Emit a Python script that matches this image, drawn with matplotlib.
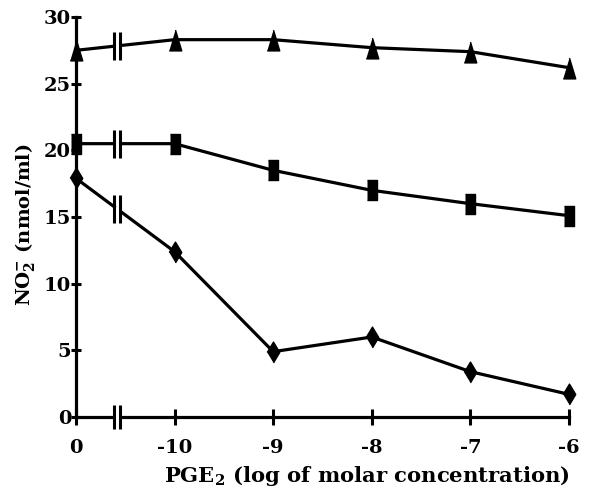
import numpy as np
import matplotlib
matplotlib.use("Agg")
import matplotlib.pyplot as plt
import matplotlib.transforms as mtransforms

# ---- data ----
x_labels = ["0", "-10", "-9", "-8", "-7", "-6"]
triangle_vals = [27.5, 28.3, 28.3, 27.7, 27.4, 26.2]
square_vals = [20.5, 20.5, 18.5, 17.0, 16.0, 15.1]
diamond_vals = [17.9, 12.4, 4.9, 6.0, 3.4, 1.7]
y_ticks = [0, 5, 10, 15, 20, 25, 30]
break_pos = 0.42

plt.rcParams['font.family'] = ['DejaVu Serif']
plt.rcParams['font.weight'] = 'bold'
plt.rcParams['mathtext.fontset'] = 'dejavuserif'

fig = plt.figure(figsize=(5.98, 4.9), dpi=100)
ax = fig.add_axes([76/598, 73/490, (569-76)/598, 400/490])

xpos = np.arange(len(x_labels))
lw = 2.3

tri = [(-0.3, -0.5), (0.3, -0.5), (0.0, 0.5)]
rect = [(-0.28, -0.5), (0.28, -0.5), (0.28, 0.5), (-0.28, 0.5)]
dia = [(0.0, -0.5), (0.3, 0.0), (0.0, 0.5), (-0.3, 0.0)]

ax.plot(xpos, triangle_vals, color='black', lw=lw, marker=tri, ms=15,
        clip_on=False, zorder=3)
ax.plot(xpos, square_vals, color='black', lw=lw, marker=rect, ms=14,
        clip_on=False, zorder=3)
ax.plot(xpos, diamond_vals, color='black', lw=lw, marker=dia, ms=15,
        clip_on=False, zorder=3)

# break marks
def draw_break(y, size):
    off_l = mtransforms.offset_copy(ax.transData, fig=fig, x=-3, y=0, units='dots')
    off_r = mtransforms.offset_copy(ax.transData, fig=fig, x=3, y=0, units='dots')
    ax.plot([break_pos], [y], marker='s', ms=5, color='white', mec='none',
            clip_on=False, zorder=4)
    for t in (off_l, off_r):
        ax.plot([break_pos], [y], marker='|', ms=size, mew=2.2, color='black',
                transform=t, clip_on=False, zorder=5)

for vals in (triangle_vals, square_vals, diamond_vals):
    draw_break(np.interp(break_pos, xpos, vals), 20)
draw_break(0, 17)

ax.set_xlim(0, 5)
ax.set_ylim(0, 30)
ax.spines['top'].set_visible(False)
ax.spines['right'].set_visible(False)
ax.spines['left'].set_linewidth(2.3)
ax.spines['bottom'].set_linewidth(2.3)

ax.set_xticks(xpos)
ax.set_xticklabels(x_labels)
ax.set_yticks(y_ticks)
ax.tick_params(axis='x', direction='inout', length=12, width=2.2, pad=10,
               labelsize=14)
ax.tick_params(axis='y', direction='inout', length=7, width=2.2, pad=0,
               labelsize=14)

ax.set_xlabel("PGE$_\\mathbf{2}$ (log of molar concentration)", fontsize=15.2,
              fontweight='bold')
ax.xaxis.set_label_coords(0.59, -0.118)
ax.set_ylabel("NO$_\\mathbf{2}^{\\mathbf{-}}$ (nmol/ml)", fontsize=14,
              fontweight='bold')
ax.yaxis.set_label_coords(-0.08, 0.48)

fig.savefig("out.png", dpi=100)
